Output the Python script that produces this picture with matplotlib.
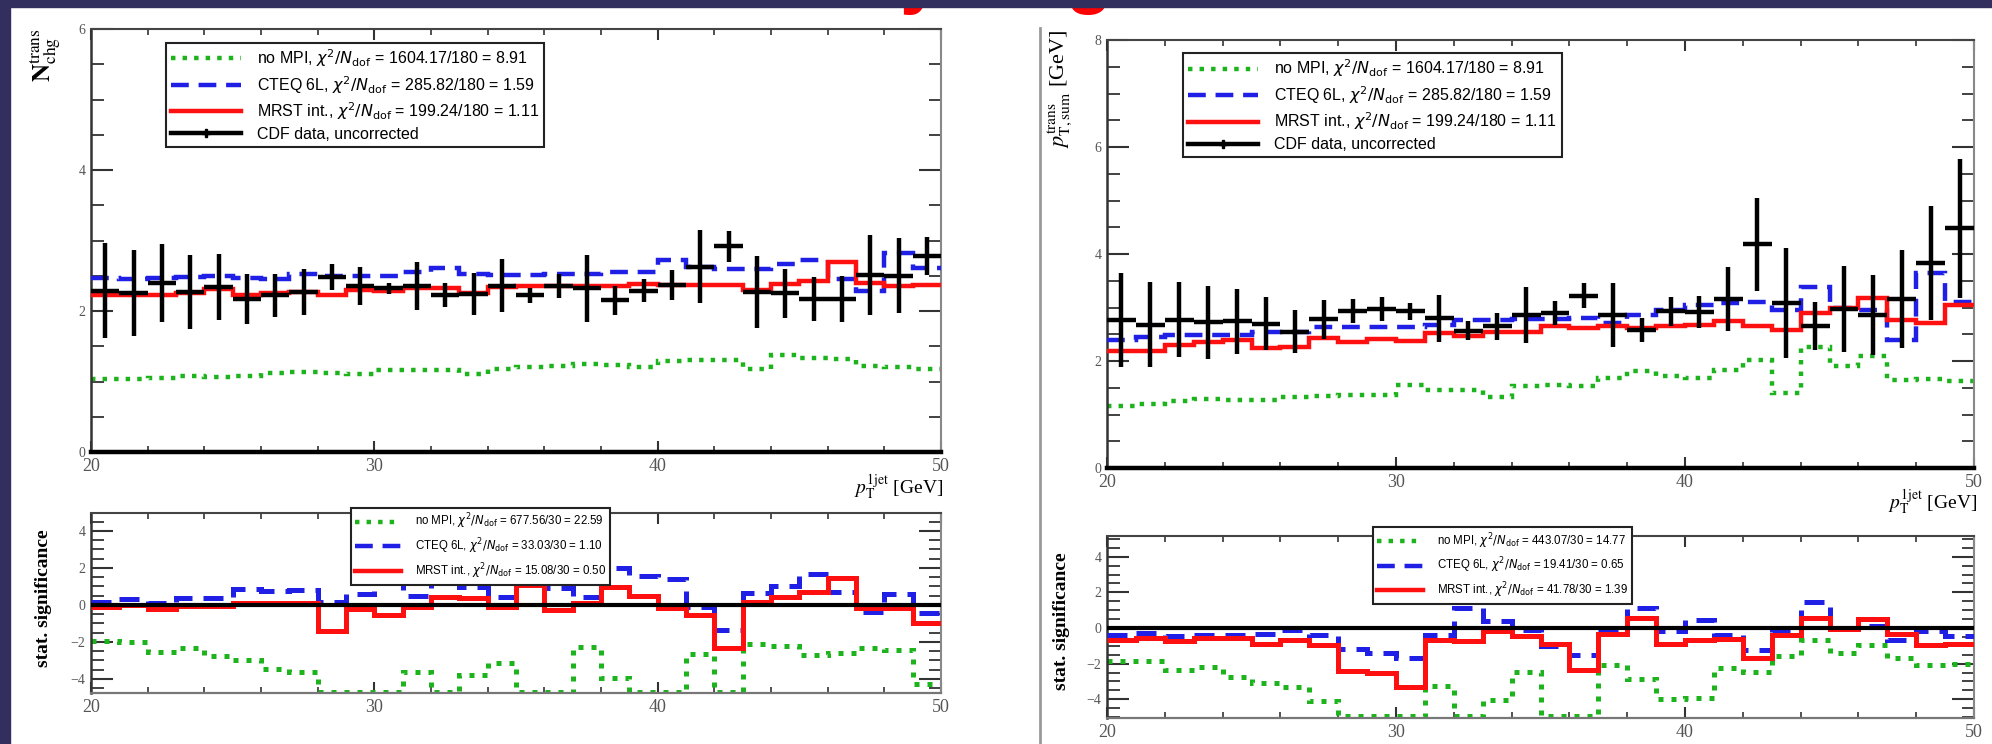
import numpy as np
import matplotlib
matplotlib.use("Agg")
import matplotlib.pyplot as plt
from matplotlib.patches import Rectangle
from matplotlib.lines import Line2D
from matplotlib.ticker import MultipleLocator

W, H = 1992, 744

# leading-jet pT binning: 30 bins of 1 GeV from 20 to 50
edges = np.arange(20, 51, 1)
centers = 0.5 * (edges[:-1] + edges[1:])

# ---- N_chg in the transverse region ----
nchg_data = [2.29, 2.26, 2.40, 2.27, 2.34, 2.17, 2.22, 2.27, 2.48, 2.35,
             2.32, 2.36, 2.23, 2.24, 2.36, 2.22, 2.36, 2.32, 2.15, 2.29,
             2.37, 2.63, 2.92, 2.27, 2.25, 2.17, 2.17, 2.51, 2.50, 2.78]
nchg_err = [0.67, 0.61, 0.55, 0.52, 0.47, 0.36, 0.31, 0.32, 0.18, 0.27,
            0.08, 0.34, 0.17, 0.30, 0.38, 0.11, 0.17, 0.48, 0.21, 0.16,
            0.21, 0.52, 0.22, 0.51, 0.35, 0.31, 0.32, 0.57, 0.53, 0.27]
nchg_nompi = [1.03, 1.04, 1.05, 1.08, 1.06, 1.08, 1.12, 1.13, 1.12, 1.11,
              1.16, 1.17, 1.17, 1.11, 1.18, 1.21, 1.22, 1.25, 1.24, 1.21,
              1.29, 1.30, 1.31, 1.18, 1.38, 1.33, 1.32, 1.22, 1.21, 1.18]
nchg_cteq = [2.47, 2.45, 2.47, 2.48, 2.49, 2.47, 2.45, 2.53, 2.50, 2.49,
             2.50, 2.56, 2.61, 2.53, 2.51, 2.51, 2.53, 2.53, 2.56, 2.56,
             2.73, 2.63, 2.60, 2.60, 2.66, 2.73, 2.45, 2.29, 2.82, 2.61]
nchg_mrst = [2.22, 2.22, 2.23, 2.26, 2.31, 2.23, 2.26, 2.27, 2.23, 2.30,
             2.29, 2.33, 2.32, 2.26, 2.34, 2.35, 2.35, 2.36, 2.36, 2.38,
             2.37, 2.37, 2.37, 2.30, 2.39, 2.42, 2.70, 2.40, 2.36, 2.37]
sig_nchg_nompi = [-1.93, -1.98, -2.52, -2.34, -2.76, -2.97, -3.48, -3.60, -4.70, -4.70,
                  -4.70, -3.60, -4.70, -3.78, -3.12, -4.70, -4.70, -2.29, -3.96, -4.70,
                  -4.70, -2.65, -4.70, -2.10, -2.20, -2.70, -2.58, -2.31, -2.43, -4.30]
sig_nchg_cteq = [0.18, 0.31, 0.13, 0.36, 0.36, 0.85, 0.77, 0.81, 0.18, 0.59,
                 1.68, 0.49, 2.20, 0.99, 0.41, 2.30, 0.90, 0.41, 2.00, 1.58,
                 1.40, -0.09, -1.35, 0.63, 1.03, 1.66, 0.72, -0.36, 0.59, -0.41]
sig_nchg_mrst = [-0.09, 0.00, -0.23, -0.05, -0.05, 0.09, 0.09, 0.09, -1.40, -0.23,
                 -0.54, -0.13, 0.45, 0.36, -0.09, 1.08, -0.27, 0.13, 0.95, 0.49,
                 -0.18, -0.54, -2.34, 0.18, 0.45, 0.72, 1.44, -0.18, -0.18, -0.99]

# ---- pT sum in the transverse region ----
ptsum_data = [2.77, 2.68, 2.77, 2.72, 2.74, 2.70, 2.55, 2.78, 2.93, 2.97,
              2.93, 2.80, 2.57, 2.65, 2.86, 2.90, 3.22, 2.86, 2.58, 2.93,
              2.91, 3.16, 4.18, 3.09, 2.66, 2.97, 2.86, 3.16, 3.83, 4.48]
ptsum_err = [0.88, 0.80, 0.70, 0.68, 0.60, 0.50, 0.40, 0.36, 0.22, 0.23,
             0.16, 0.44, 0.17, 0.25, 0.53, 0.22, 0.23, 0.60, 0.22, 0.27,
             0.30, 0.60, 0.87, 1.03, 0.45, 0.81, 0.74, 0.91, 1.06, 1.30]
ptsum_nompi = [1.16, 1.20, 1.25, 1.29, 1.28, 1.28, 1.33, 1.35, 1.37, 1.37,
               1.56, 1.46, 1.45, 1.33, 1.54, 1.56, 1.53, 1.68, 1.81, 1.72,
               1.68, 1.84, 2.02, 1.40, 2.27, 1.90, 2.10, 1.65, 1.66, 1.62]
ptsum_cteq = [2.40, 2.45, 2.49, 2.49, 2.49, 2.55, 2.55, 2.63, 2.63, 2.63,
              2.63, 2.68, 2.76, 2.76, 2.78, 2.78, 2.80, 2.71, 2.86, 2.96,
              3.05, 3.08, 3.11, 2.96, 3.39, 2.99, 2.96, 2.40, 3.64, 3.11]
ptsum_mrst = [2.18, 2.18, 2.30, 2.35, 2.40, 2.24, 2.27, 2.43, 2.35, 2.41,
              2.38, 2.52, 2.46, 2.55, 2.55, 2.66, 2.62, 2.66, 2.62, 2.65,
              2.68, 2.74, 2.65, 2.58, 2.90, 2.99, 3.18, 2.77, 2.71, 3.05]
sig_ptsum_nompi = [-1.87, -1.87, -2.37, -2.19, -2.75, -3.08, -3.31, -4.11, -4.95, -4.95,
                   -4.95, -3.27, -4.95, -4.02, -2.49, -4.95, -4.95, -2.06, -2.86, -3.98,
                   -3.93, -2.24, -2.49, -1.59, -0.69, -1.40, -0.93, -1.68, -2.06, -2.00]
sig_ptsum_cteq = [-0.37, -0.28, -0.43, -0.37, -0.37, -0.32, -0.09, -0.37, -1.18, -1.40,
                  -1.68, -0.37, 1.12, 0.37, -0.13, -1.03, -1.50, -0.19, 1.12, -0.19,
                  0.47, -0.37, -1.21, -0.09, 1.44, 0.00, 0.09, -0.65, -0.19, -0.43]
sig_ptsum_mrst = [-0.65, -0.56, -0.75, -0.56, -0.56, -0.88, -0.65, -0.93, -2.43, -2.52,
                  -3.31, -0.65, -0.75, -0.15, -0.43, -0.88, -2.34, -0.32, 0.56, -0.88,
                  -0.69, -0.62, -1.68, -0.37, 0.56, -0.06, 0.50, -0.32, -0.93, -0.88]

chi2_main = ["no MPI, $\\chi^2/N_{\\rm dof}$ = 1604.17/180 = 8.91",
             "CTEQ 6L, $\\chi^2/N_{\\rm dof}$ = 285.82/180 = 1.59",
             "MRST int., $\\chi^2/N_{\\rm dof}$ = 199.24/180 = 1.11",
             "CDF data, uncorrected"]
chi2_sig_nchg = ["no MPI, $\\chi^2/N_{\\rm dof}$ = 677.56/30 = 22.59",
                 "CTEQ 6L, $\\chi^2/N_{\\rm dof}$ = 33.03/30 = 1.10",
                 "MRST int., $\\chi^2/N_{\\rm dof}$ = 15.08/30 = 0.50"]
chi2_sig_ptsum = ["no MPI, $\\chi^2/N_{\\rm dof}$ = 443.07/30 = 14.77",
                  "CTEQ 6L, $\\chi^2/N_{\\rm dof}$ = 19.41/30 = 0.65",
                  "MRST int., $\\chi^2/N_{\\rm dof}$ = 41.78/30 = 1.39"]

GREEN, BLUE, RED = "#1db31d", "#1f1fe6", "#ff1010"
NAVY = "#322f5e"


def box(x0, y0, x1, y1):
    # pixel box -> figure fraction rect
    return [x0 / W, 1 - y1 / H, (x1 - x0) / W, (y1 - y0) / H]


def fx(x):
    return x / W


def fy(y):
    return 1 - y / H


def style(ax, ylim, heavy_bottom):
    ax.set_xlim(20, 50)
    ax.set_ylim(*ylim)
    ax.xaxis.set_major_locator(MultipleLocator(10))
    ax.xaxis.set_minor_locator(MultipleLocator(2))
    ax.yaxis.set_major_locator(MultipleLocator(2))
    ax.yaxis.set_minor_locator(MultipleLocator(0.5))
    ax.tick_params(which="both", direction="in", top=True, right=True,
                   colors="#333333", labelcolor="#555555",
                   labelfontfamily="Liberation Serif")
    ax.tick_params(axis="y", which="major", length=16, width=1.5, pad=4, labelsize=10)
    ax.tick_params(axis="y", which="minor", length=9, width=1.3)
    ax.tick_params(axis="x", which="major", length=8, width=1.5, pad=4, labelsize=13)
    ax.tick_params(axis="x", which="minor", length=4, width=1.2)
    if heavy_bottom:
        ax.spines["bottom"].set_linewidth(3.2)
        ax.spines["bottom"].set_color("black")
    else:
        ax.spines["bottom"].set_linewidth(1.6)
        ax.spines["bottom"].set_color("#777777")
    ax.spines["left"].set_linewidth(1.8)
    ax.spines["left"].set_color("#333333")
    ax.spines["top"].set_linewidth(1.5)
    ax.spines["top"].set_color("#444444")
    ax.spines["right"].set_linewidth(1.5)
    ax.spines["right"].set_color("#888888")


def draw_models(ax, nompi, cteq, mrst, lw):
    ax.stairs(nompi, edges, baseline=None, color=GREEN, lw=lw,
              linestyle=(0, (1, 1.6)), zorder=2)
    ax.stairs(cteq, edges, baseline=None, color=BLUE, lw=lw,
              linestyle=(0, (4, 2.2)), zorder=3)
    ax.stairs(mrst, edges, baseline=None, color=RED, lw=lw, zorder=4)


def main_panel(rect, data, err, nompi, cteq, mrst, ylim, leg_anchor):
    ax = fig.add_axes(rect)
    style(ax, ylim, True)
    draw_models(ax, nompi, cteq, mrst, 3.2)
    ax.errorbar(centers, data, xerr=0.5, yerr=err, fmt="none", ecolor="black",
                elinewidth=3.2, capsize=0, zorder=6)
    handles = [Line2D([], [], color=GREEN, lw=3.2, linestyle=(0, (1, 1.6))),
               Line2D([], [], color=BLUE, lw=3.2, linestyle=(0, (4, 2.2))),
               Line2D([], [], color=RED, lw=3.2),
               Line2D([], [], color="black", lw=3.2, marker="P", markersize=6)]
    leg = ax.legend(handles, chi2_main, loc="upper left", bbox_to_anchor=leg_anchor,
                    prop={"family": "Liberation Sans", "size": 11.5},
                    handlelength=4.4, handletextpad=1.0, labelspacing=0.3,
                    borderpad=0.3, borderaxespad=0, fancybox=False,
                    framealpha=1, edgecolor="#222222")
    leg.get_frame().set_linewidth(1.5)
    return ax


def sig_panel(rect, nompi, cteq, mrst, ylim, labels, leg_anchor):
    ax = fig.add_axes(rect)
    style(ax, ylim, False)
    ax.axhline(0, color="black", lw=3, zorder=5)
    draw_models(ax, nompi, cteq, mrst, 3.6)
    handles = [Line2D([], [], color=GREEN, lw=3.2, linestyle=(0, (1, 1.6))),
               Line2D([], [], color=BLUE, lw=3.2, linestyle=(0, (4, 2.2))),
               Line2D([], [], color=RED, lw=3.2)]
    leg = ax.legend(handles, labels, loc="upper left", bbox_to_anchor=leg_anchor,
                    prop={"family": "Liberation Sans", "size": 8.3},
                    handlelength=4.0, handletextpad=1.2, labelspacing=0.45,
                    borderpad=0.35, borderaxespad=0, fancybox=False,
                    framealpha=1, edgecolor="#222222")
    leg.get_frame().set_linewidth(1.5)
    leg.set_zorder(10)
    return ax


fig = plt.figure(figsize=(W / 100, H / 100), dpi=100)
fig.patch.set_facecolor("white")

# left: charged multiplicity
main_panel(box(91, 29, 941, 452), nchg_data, nchg_err, nchg_nompi, nchg_cteq,
           nchg_mrst, (0, 6), (0.088, 0.968))
sig_panel(box(91, 513, 941, 693), sig_nchg_nompi, sig_nchg_cteq, sig_nchg_mrst,
          (-4.76, 4.97), chi2_sig_nchg, (0.306, 1.03))

# right: scalar pT sum
main_panel(box(1107, 40, 1974, 468), ptsum_data, ptsum_err, ptsum_nompi, ptsum_cteq,
           ptsum_mrst, (0, 8), (0.088, 0.97))
sig_panel(box(1107, 536, 1974, 718), sig_ptsum_nompi, sig_ptsum_cteq, sig_ptsum_mrst,
          (-5.05, 5.16), chi2_sig_ptsum, (0.307, 1.05))

# axis titles
fig.text(fx(45), fy(28), r"$\mathbf{N}_{\rm chg}^{\rm trans}$", rotation=90, ha="center",
         va="top", fontsize=18, math_fontfamily="stix")
fig.text(fx(1060), fy(30), r"$p_{\rm T,sum}^{\rm trans}$ [GeV]", rotation=90,
         ha="center", va="top", fontsize=16, family="Liberation Serif",
         math_fontfamily="stix")
for x, y in [(943, 487), (1977, 502)]:
    fig.text(fx(x), fy(y), r"$p_{\rm T}^{\rm 1jet}$ [GeV]", ha="right", va="center",
             fontsize=14, family="Liberation Serif", math_fontfamily="stix")
for x, y in [(43, 598), (1062, 621)]:
    fig.text(fx(x), fy(y), "stat. significance", rotation=90, ha="center",
             va="center", fontsize=14, fontweight="bold", family="Liberation Serif")

# separator between the two columns
fig.add_artist(Line2D([fx(1040), fx(1040)], [fy(28), 0], color="#999999", lw=2))

# slide title descenders peeking below the header bar
fig.text(fx(920), 1.0, "y", ha="center", va="baseline", fontsize=54,
         fontweight="bold", color="#ff0000", family="Liberation Sans", zorder=1)
fig.text(fx(1089), 1.0, "g", ha="center", va="baseline", fontsize=54,
         fontweight="bold", color="#ff0000", family="Liberation Sans", zorder=1)

# slide frame
fig.add_artist(Rectangle((0, fy(7)), 1, 7 / H, transform=fig.transFigure,
                         color=NAVY, zorder=20))
fig.add_artist(Rectangle((0, 0), 10 / W, 1, transform=fig.transFigure,
                         color=NAVY, zorder=20))

fig.savefig("out.png", dpi=100)
